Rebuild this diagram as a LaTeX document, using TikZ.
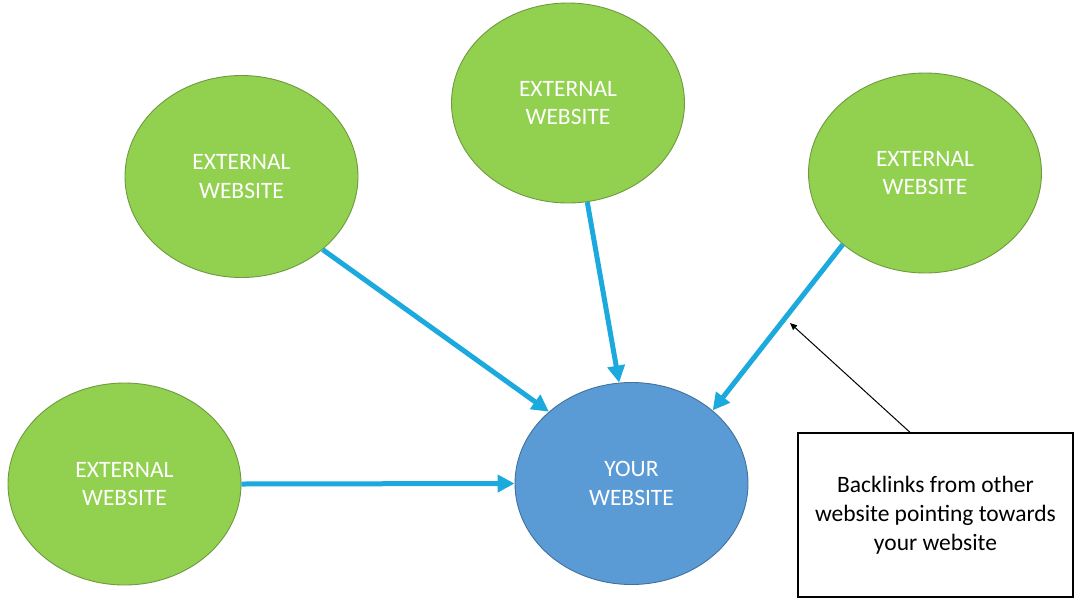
\documentclass[tikz,border=0pt]{standalone}
\usepackage{fontspec}
\setmainfont{Carlito}
\usetikzlibrary{shapes.geometric,arrows.meta}
\definecolor{extgreen}{HTML}{92D050}
\definecolor{extgreenline}{HTML}{6F9A3E}
\definecolor{ourblue}{HTML}{5B9BD5}
\definecolor{ourblueline}{HTML}{41719C}
\definecolor{linkblue}{RGB}{28,170,222}
\tikzset{
  site/.style={ellipse, minimum width=233pt, minimum height=202pt, inner sep=0pt,
    align=center, text=white, line width=0.9pt,
    font=\fontsize{23.5}{28.5}\selectfont},
  extsite/.style={site, fill=extgreen, draw=extgreenline},
  oursite/.style={site, fill=ourblue, draw=ourblueline},
  link/.style={draw=linkblue, line width=5pt, -{Triangle[length=17pt,width=17pt]}},
  notebox/.style={draw=black, line width=1.3pt, fill=white, minimum width=275pt,
    minimum height=164pt, inner sep=0pt, align=center,
    font=\fontsize{23.5}{29}\selectfont},
  pointer/.style={draw=black, line width=1pt, -{Triangle[length=7pt,width=6pt]}}
}
\begin{document}
\begin{tikzpicture}[x=1pt,y=-1pt]
\useasboundingbox (0,0) rectangle (1090,603);
\node[extsite] (tl) at (241.5,176.5) {EXTERNAL\\WEBSITE};
\node[extsite, minimum height=200pt] (tm) at (568,103) {EXTERNAL\\WEBSITE};
\node[extsite, minimum height=200pt] (tr) at (925,173) {EXTERNAL\\WEBSITE};
\node[extsite] (bl) at (124.5,484) {EXTERNAL\\WEBSITE};
\node[oursite] (you) at (631.5,483.5) {YOUR\\WEBSITE};
\node[notebox] (note) at (935.5,515) {Backlinks from other\\website pointing towards\\your website};
\coordinate (target) at (790,323);

\draw[link] (tl.-42) -- (you.139);
\draw[link] (tm.-79) -- (you.97);
\draw[link] (tr.-139.5) -- (you.42);
\draw[link] (bl.0) -- (you.180);
\draw[pointer] ([xshift=-25.5pt]note.north) -- (target);
\end{tikzpicture}
\end{document}
